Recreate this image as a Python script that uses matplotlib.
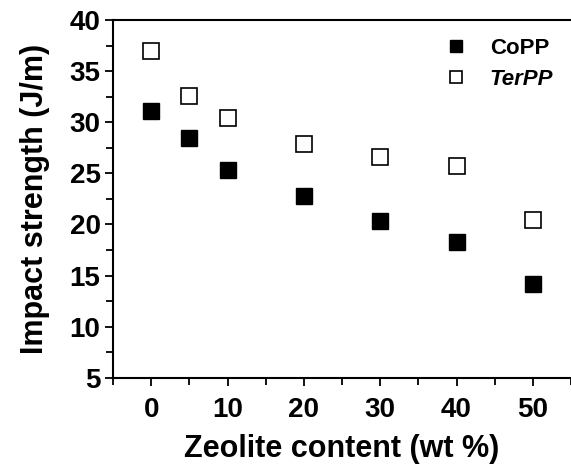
import matplotlib
matplotlib.use('Agg')
import matplotlib.pyplot as plt
from matplotlib.ticker import MultipleLocator

# Data
zeolite = [0, 5, 10, 20, 30, 40, 50]
copp = [31.1, 28.5, 25.3, 22.8, 20.3, 18.3, 14.2]
terpp = [37.0, 32.6, 30.4, 27.9, 26.6, 25.7, 20.4]

plt.rcParams['font.family'] = ['Liberation Sans', 'DejaVu Sans']
plt.rcParams['font.weight'] = 'bold'

fig = plt.figure(figsize=(5.71, 4.67), dpi=100)
ax = fig.add_axes([0.198, 0.191, 0.802, 0.766])

ax.plot(zeolite, copp, 's', color='black', markersize=12, label='CoPP')
ax.plot(zeolite, terpp, 's', markerfacecolor='white', markeredgecolor='black',
        markeredgewidth=1.2, markersize=12, label='TerPP')

ax.set_xlim(-5, 55)
ax.set_ylim(5, 40)
ax.xaxis.set_major_locator(MultipleLocator(10))
ax.xaxis.set_minor_locator(MultipleLocator(5))
ax.yaxis.set_major_locator(MultipleLocator(5))
ax.yaxis.set_minor_locator(MultipleLocator(2.5))
ax.tick_params(which='both', direction='out', width=1.3, labelsize=20)
ax.tick_params(which='major', length=6)
ax.tick_params(which='minor', length=5)
ax.tick_params(axis='x', pad=8)
ax.tick_params(axis='y', pad=3)
for lbl in ax.get_xticklabels() + ax.get_yticklabels():
  lbl.set_fontweight('bold')

ax.spines['right'].set_visible(False)
for s in ['left', 'bottom', 'top']:
  ax.spines[s].set_linewidth(1.5)

ax.set_xlabel('Zeolite content (wt %)', fontsize=22, fontweight='bold', labelpad=8)
ax.set_ylabel('Impact strength (J/m)', fontsize=22, fontweight='bold', labelpad=14)

leg = ax.legend(loc='upper right', frameon=False, fontsize=16, markerscale=0.75,
                handletextpad=0.9, labelspacing=0.45, borderaxespad=0.4,
                handlelength=1.2)
for t in leg.get_texts():
  t.set_fontweight('bold')
leg.get_texts()[1].set_fontstyle('italic')

fig.savefig('out.png', dpi=100)
